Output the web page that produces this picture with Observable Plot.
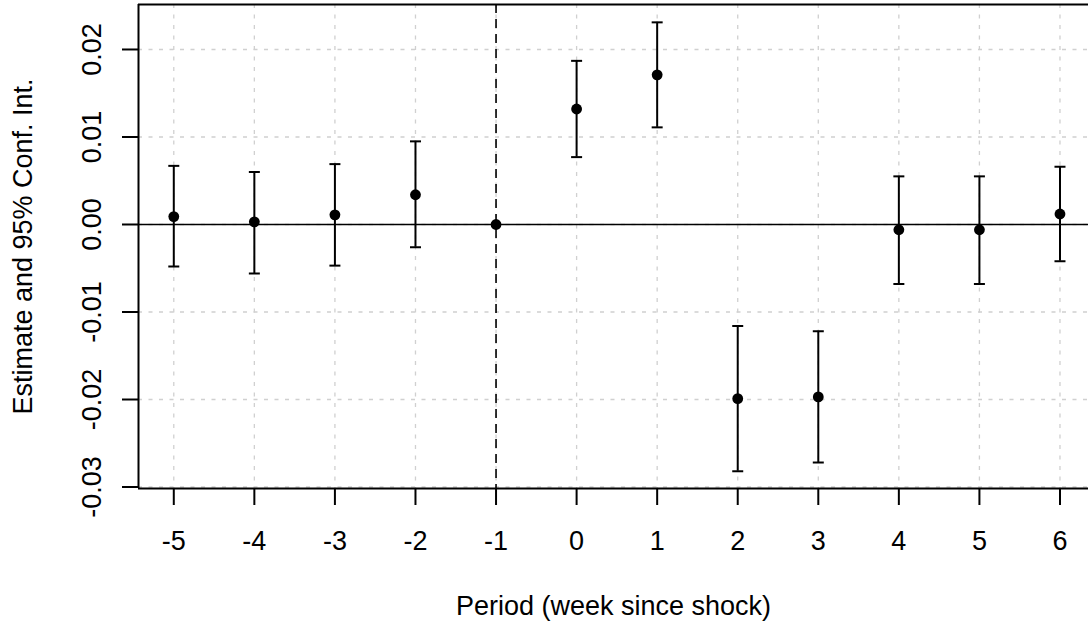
<!DOCTYPE html>
<html><head><meta charset="utf-8">
<script src="https://cdn.jsdelivr.net/npm/d3@7"></script>
<script src="https://cdn.jsdelivr.net/npm/@observablehq/plot@0.6"></script>
<style>html,body{margin:0;padding:0;background:#fff;overflow:hidden}</style>
</head><body><div id="chart"></div>
<script>
const periods   = [-5, -4, -3, -2, -1, 0, 1, 2, 3, 4, 5, 6];
const estimates = [0.0009, 0.0003, 0.0011, 0.0034, 0, 0.0132, 0.0171, -0.0199, -0.0197, -0.0006, -0.0006, 0.0012];
const lower     = [-0.0048, -0.0056, -0.0047, -0.0026, 0, 0.0077, 0.0111, -0.0282, -0.0272, -0.0068, -0.0068, -0.0042];
const upper     = [0.0067, 0.0060, 0.0069, 0.0095, 0, 0.0187, 0.0231, -0.0116, -0.0122, 0.0055, 0.0055, 0.0066];
const xTicks      = [-5, -4, -3, -2, -1, 0, 1, 2, 3, 4, 5, 6];
const xTickLabels = ["-5", "-4", "-3", "-2", "-1", "0", "1", "2", "3", "4", "5", "6"];
const yTicks      = [-0.03, -0.02, -0.01, 0, 0.01, 0.02];
const yTickLabels = ["-0.03", "-0.02", "-0.01", "0.00", "0.01", "0.02"];
const xTitle = "Period (week since shock)";
const yTitle = "Estimate and 95% Conf. Int.";
const shockPeriod = -1;

const rows = periods.map((p, i) => ({period: p, est: estimates[i], lo: lower[i], hi: upper[i]}));
const bars = rows.filter(d => d.hi !== d.lo);

const capSymbol = {draw(ctx, size) { const w = Math.sqrt(size / Math.PI); ctx.moveTo(-w, 0); ctx.lineTo(w, 0); }};

const xDomain = [-5.438, 6.354];
const yDomain = [-0.03017, 0.02514];

const FS = 27;
const gridStyle = {stroke: "#d0d0d0", strokeOpacity: 1, strokeWidth: 1.3, strokeDasharray: "4,6.5"};
const capStyle = {symbol: capSymbol, r: 5.5, stroke: "#000", strokeWidth: 2, fill: "none"};

const chart = Plot.plot({
  width: 1088, height: 623,
  marginLeft: 138, marginRight: 0, marginTop: 4, marginBottom: 135,
  style: {fontFamily: "'Liberation Sans', Arial, sans-serif", fontSize: FS + "px", background: "#fff", color: "#000"},
  x: {domain: xDomain},
  y: {domain: yDomain},
  marks: [
    Plot.gridX(xTicks, gridStyle),
    Plot.gridY(yTicks, gridStyle),
    Plot.ruleY([0], {stroke: "#000", strokeWidth: 1.5}),
    Plot.ruleX([shockPeriod], {stroke: "#000", strokeWidth: 1.6, strokeDasharray: "9,6"}),
    Plot.ruleX(bars, {x: "period", y1: "lo", y2: "hi", stroke: "#000", strokeWidth: 2}),
    Plot.dot(bars, {x: "period", y: "lo", ...capStyle}),
    Plot.dot(bars, {x: "period", y: "hi", ...capStyle}),
    Plot.dot(rows, {x: "period", y: "est", r: 5.4, fill: "#000", stroke: "none"}),
    Plot.ruleY([yDomain[1]], {stroke: "#000", strokeWidth: 2}),
    Plot.ruleY([yDomain[0]], {stroke: "#000", strokeWidth: 2}),
    Plot.ruleX([xDomain[0]], {stroke: "#000", strokeWidth: 2}),
    Plot.axisX({ticks: xTicks, tickFormat: d => xTickLabels[xTicks.indexOf(d)], tickSize: 17, tickPadding: 25, strokeWidth: 2, fontSize: FS, label: null}),
    Plot.axisY({ticks: yTicks, tickFormat: d => yTickLabels[yTicks.findIndex(t => Math.abs(t - d) < 1e-9)], tickSize: 16, tickRotate: -90, tickPadding: 22, strokeWidth: 2, fontSize: FS, label: null}),
    Plot.text([xTitle], {frameAnchor: "bottom", dy: 126, lineAnchor: "bottom", textAnchor: "middle", fontSize: FS, text: d => d}),
    Plot.text([yTitle], {frameAnchor: "left", dx: -115, rotate: -90, textAnchor: "middle", lineAnchor: "middle", fontSize: FS, text: d => d})
  ]
});
document.getElementById("chart").appendChild(chart);
</script>
</body></html>
